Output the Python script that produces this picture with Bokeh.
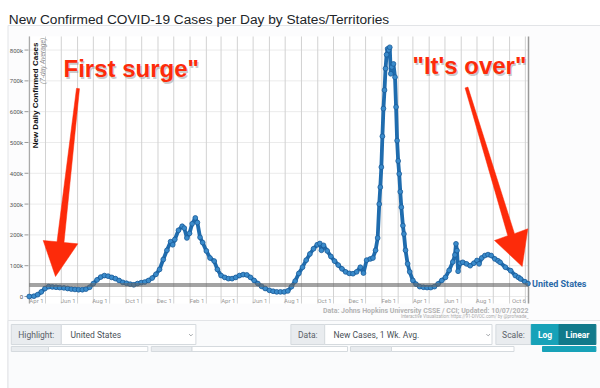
import pandas as pd
from bokeh.plotting import figure
from bokeh.models import Range1d
from bokeh.core.properties import value
from bokeh.embed import file_html
from bokeh.resources import INLINE

# ---------------- data (US new cases, 7-day average, thousands) ----------------
dates = [
    "2020-03-01", "2020-03-10", "2020-03-17", "2020-03-24", "2020-03-31", "2020-04-07", "2020-04-14",
    "2020-04-21", "2020-04-28", "2020-05-06", "2020-05-13", "2020-05-20", "2020-05-27", "2020-06-03",
    "2020-06-10", "2020-06-17", "2020-06-24", "2020-07-01", "2020-07-08", "2020-07-15", "2020-07-22",
    "2020-07-29", "2020-08-05", "2020-08-12", "2020-08-19", "2020-08-26", "2020-09-02", "2020-09-09",
    "2020-09-16", "2020-09-23", "2020-09-30", "2020-10-07", "2020-10-14", "2020-10-21", "2020-10-28",
    "2020-11-04", "2020-11-11", "2020-11-18", "2020-11-25", "2020-11-29", "2020-12-03", "2020-12-10",
    "2020-12-17", "2020-12-21", "2020-12-26", "2020-12-31",
    "2021-01-05", "2021-01-11", "2021-01-15", "2021-01-20", "2021-01-25", "2021-02-01", "2021-02-08",
    "2021-02-16", "2021-02-22", "2021-03-01", "2021-03-08", "2021-03-15", "2021-03-22", "2021-03-29",
    "2021-04-05", "2021-04-12", "2021-04-19", "2021-04-26", "2021-05-03", "2021-05-10", "2021-05-17",
    "2021-05-24", "2021-06-01", "2021-06-08", "2021-06-15", "2021-06-22", "2021-06-29", "2021-07-06",
    "2021-07-13", "2021-07-20", "2021-07-27", "2021-08-03", "2021-08-10", "2021-08-17", "2021-08-24",
    "2021-08-31", "2021-09-05", "2021-09-08", "2021-09-12", "2021-09-19", "2021-09-26", "2021-10-03",
    "2021-10-10", "2021-10-17", "2021-10-24", "2021-10-31", "2021-11-07", "2021-11-14", "2021-11-21",
    "2021-11-27", "2021-12-03", "2021-12-10", "2021-12-15", "2021-12-20", "2021-12-24", "2021-12-27",
    "2021-12-29", "2021-12-31",
    "2022-01-02", "2022-01-04", "2022-01-06", "2022-01-08", "2022-01-10", "2022-01-12", "2022-01-14",
    "2022-01-16", "2022-01-18", "2022-01-20", "2022-01-23", "2022-01-26", "2022-01-28", "2022-01-30",
    "2022-02-01", "2022-02-03", "2022-02-05", "2022-02-07", "2022-02-10", "2022-02-12", "2022-02-15",
    "2022-02-19", "2022-02-23", "2022-03-01", "2022-03-07", "2022-03-14", "2022-03-21", "2022-03-28",
    "2022-04-04", "2022-04-11", "2022-04-18", "2022-04-25", "2022-05-02", "2022-05-09", "2022-05-16",
    "2022-05-20", "2022-05-22", "2022-05-24", "2022-05-26", "2022-05-30", "2022-06-04", "2022-06-11",
    "2022-06-18", "2022-06-25", "2022-07-01", "2022-07-05", "2022-07-10", "2022-07-16", "2022-07-22",
    "2022-07-28", "2022-08-04", "2022-08-10", "2022-08-14", "2022-08-24", "2022-09-03", "2022-09-12",
    "2022-09-18", "2022-09-22", "2022-09-30", "2022-10-06",
]
cases_k = [
    0, 1, 6, 15, 26, 32, 31,
    30, 29, 28, 26, 24, 23, 22,
    22, 24, 30, 42, 54, 63, 68,
    66, 62, 58, 52, 46, 43, 40,
    38, 42, 45, 47, 52, 60, 72,
    88, 120, 150, 178, 168, 185, 215,
    228, 222, 190, 205,
    236, 255, 240, 192, 175, 148, 125,
    115, 88, 68, 62, 58, 58, 62,
    68, 71, 70, 62, 52, 42, 33,
    26, 20, 17, 15, 15, 15, 18,
    32, 50, 75, 95, 118, 138, 155,
    168, 172, 150, 166, 148, 130, 115,
    102, 90, 80, 75, 74, 80, 95,
    76, 118, 122, 125, 150, 190, 300,
    355, 420,
    520, 610, 670, 740, 785, 804, 800,
    809, 723, 745, 755, 712, 615, 506,
    440, 398, 340, 290, 230, 203, 150,
    106, 80, 52, 40, 32, 30, 29,
    29, 32, 41, 52, 62, 85, 112,
    135, 171, 149, 82, 108, 111, 106,
    100, 108, 117, 106, 125, 133, 136,
    133, 122, 116, 111, 95, 84, 68,
    62, 57, 48, 42,
]
current_level_k = 37

y_ticks = [0, 100000, 200000, 300000, 400000, 500000, 600000, 700000, 800000]
y_tick_labels = ["0", "100k", "200k", "300k", "400k", "500k", "600k", "700k", "800k"]
x_tick_dates = ["2020-04-01", "2020-06-01", "2020-08-01", "2020-10-01", "2020-12-01",
                "2021-02-01", "2021-04-01", "2021-06-01", "2021-08-01", "2021-10-01",
                "2021-12-01", "2022-02-01", "2022-04-01", "2022-06-01", "2022-08-01", "2022-10-06"]
x_tick_labels = ["Apr 1", "Jun 1", "Aug 1", "Oct 1", "Dec 1", "Feb 1", "Apr 1", "Jun 1",
                 "Aug 1", "Oct 1", "Dec 1", "Feb 1", "Apr 1", "Jun 1", "Aug 1", "Oct 6"]
series_name = "United States"


def ms(s):
    return pd.Timestamp(s).value / 1e6


xs = [ms(d) for d in dates]
ys = [v * 1000 for v in cases_k]
month_ticks = [ms(d) for d in pd.date_range("2020-03-01", "2022-10-01", freq="MS")]

# chart value ranges and where the chart frame sits on the page (pixels)
x0, x1 = ms("2020-03-01 12:00"), ms("2022-10-07")
y0, y1 = -22700, 844000
W, H = 600, 388
FL, FR, FT, FB = 29, 528, 36, 303
px_ms = (x1 - x0) / (FR - FL)
px_val = (y1 - y0) / (FB - FT)

FONT = "Roboto"
RED = "#fd2b0a"

# one canvas in page pixels; chart drawn on extra ranges through its own scales
p = figure(width=W, height=H, x_range=Range1d(0, W), y_range=Range1d(H, 0),
           x_axis_location=None, y_axis_location=None, output_backend="svg",
           toolbar_location=None, min_border=0, outline_line_color=None,
           background_fill_color="#ffffff", border_fill_color="#ffffff")
p.grid.visible = False
p.extra_x_ranges = {"date": Range1d(x0 - FL * px_ms, x1 + (W - FR) * px_ms)}
p.extra_y_ranges = {"cases": Range1d(y0 - (H - FB) * px_val, y1 + FT * px_val)}
D = dict(x_range_name="date", y_range_name="cases")

# card / panel backgrounds
p.quad(left=[7.5], right=[W + 2], top=[25], bottom=[H + 2], fill_color="#fcfcfd",
       line_color="#e2e4e7", line_width=1)
p.quad(left=[7.5], right=[W + 2], top=[320], bottom=[H + 2], fill_color="#fafbfc",
       line_color="#e2e4e7", line_width=1)
p.quad(left=[x0], right=[x1], top=[y1], bottom=[y0], fill_color="#ffffff", line_color=None, **D)

# grid
p.segment(x0=[x0] * len(y_ticks), x1=[x1] * len(y_ticks), y0=y_ticks, y1=y_ticks,
          line_color="#ebebeb", line_width=1, **D)
p.segment(x0=month_ticks, x1=month_ticks, y0=[y0] * len(month_ticks), y1=[y1] * len(month_ticks),
          line_color="#d2d2d2", line_width=1, **D)
# y axis
p.segment(x0=[x0], x1=[x0], y0=[y0], y1=[y1], line_color="#aaaaaa", line_width=1.2, **D)
p.segment(x0=[x0 - 5 * px_ms] * len(y_ticks), x1=[x0 - 1 * px_ms] * len(y_ticks),
          y0=y_ticks, y1=y_ticks, line_color="#999999", line_width=1, **D)
p.text(x=[x0 - 6.5 * px_ms] * len(y_ticks), y=y_ticks, text=y_tick_labels, text_align="right",
       text_baseline="middle", text_font=value(FONT), text_font_size="6px",
       text_color="#555555", **D)
# right border
p.segment(x0=[x1], x1=[x1], y0=[y0], y1=[y1], line_color="#999999", line_width=1.5, **D)

# x tick labels (right-aligned to their gridline)
p.text(x=[ms(d) - 2 * px_ms for d in x_tick_dates], y=[-4 * px_val] * len(x_tick_dates),
       text=x_tick_labels, text_align="right", text_baseline="middle",
       text_font=value(FONT), text_font_size="6px", text_color="#999999", **D)

# series
p.line(xs, ys, line_color="#1f6cae", line_width=3.8, **D)
p.scatter(xs, ys, marker="circle", size=4.8, fill_color="#3a8bcb", line_color="#1a5c99",
          line_width=0.8, **D)
p.line([xs[0], xs[-1]], [current_level_k * 1000] * 2, line_color="#666666",
       line_alpha=0.6, line_width=4, **D)
p.text(x=[xs[-1]], y=[ys[-1]], text=[series_name], x_offset=4, text_font=value(FONT),
       text_font_style="bold", text_font_size="9px", text_color="#2a6aa8",
       text_baseline="middle", text_align="left", **D)

# axis titles inside frame
p.text(x=[34.5], y=[42], text=["New Daily Confirmed Cases"], angle=90, angle_units="deg",
       text_align="right", text_baseline="middle", text_font=value("Liberation Sans"),
       text_font_style="bold", text_font_size="8px", text_color="#111111")
p.text(x=[41.8], y=[37], text=["(7-day Average)"], angle=90, angle_units="deg",
       text_align="right", text_baseline="middle", text_font=value("Liberation Sans"),
       text_font_style="italic", text_font_size="6.5px", text_color="#888888")

# title
p.text(x=[8.3], y=[19], text=["New Confirmed COVID-19 Cases per Day by States/Territories"],
       text_font=value("Liberation Sans"), text_font_size="13.7px", text_color="#212529",
       text_baseline="alphabetic", text_align="left")

# source text
p.text(x=[528], y=[310.5], text=["Data: Johns Hopkins University CSSE / CCI; Updated: 10/07/2022"],
       text_font=value(FONT), text_font_style="bold", text_font_size="7px",
       text_color="#b3b3b3", text_align="right", text_baseline="middle")
p.text(x=[528], y=[315.7], text=["Interactive Visualization: https://91-DIVOC.com/ by @profwade_"],
       text_font=value(FONT), text_font_size="4.5px", text_color="#aaaaaa",
       text_align="right", text_baseline="middle")


# annotation arrows (page pixels)
def arrow(tail, tip, head_a, head_b, w_tail, w_base):
    bx, by = (head_a[0] + head_b[0]) / 2, (head_a[1] + head_b[1]) / 2
    dx, dy = bx - tail[0], by - tail[1]
    L = (dx * dx + dy * dy) ** 0.5
    nx, ny = dy / L, -dx / L
    if (head_a[0] - bx) * nx + (head_a[1] - by) * ny < 0:
        head_a, head_b = head_b, head_a
    pts = [(tail[0] + nx * w_tail, tail[1] + ny * w_tail),
           (bx + nx * w_base, by + ny * w_base), head_a, tip, head_b,
           (bx - nx * w_base, by - ny * w_base),
           (tail[0] - nx * w_tail, tail[1] - ny * w_tail)]
    return [a for a, b in pts], [b for a, b in pts]


for spec in [((77.5, 88), (55, 276), (42.7, 240), (77.3, 243.3)),
             ((466, 87), (521.7, 266), (494, 240), (527.3, 228.3))]:
    ax_, ay_ = arrow(*spec, 1.5, 3.5)
    p.patch(ax_, ay_, fill_color=RED, line_color=RED, line_width=0.5)

ann_text = ["First surge\"", "\"It's over\""]
ann_x = [63, 412]
ann_y = [68, 65]
p.text(x=[a + 1.2 for a in ann_x], y=[b + 1.5 for b in ann_y], text=ann_text,
       text_font=value("Liberation Sans"), text_font_style="bold", text_font_size="24px",
       text_color="#8a8a8a", text_alpha=0.45, text_baseline="alphabetic")
p.text(x=ann_x, y=ann_y, text=ann_text, text_font=value("Liberation Sans"),
       text_font_style="bold", text_font_size="24px", text_color=RED, text_baseline="alphabetic")

# ---------------- controls strip (page pixels) ----------------
boxes = [
    (10.8, 60.8, 324, 344, "#e9ecef"), (60.8, 195.4, 324, 344, "#ffffff"),
    (290.4, 324.2, 324, 344, "#e9ecef"), (324.2, 491.5, 324, 344, "#ffffff"),
    (495.4, 530.8, 324, 344, "#e9ecef"),
    (10.8, 48, 346, 351, "#e9ecef"), (48, 147.3, 346, 351, "#ffffff"),
    (150.8, 191.5, 346, 351, "#e9ecef"), (191.5, 347, 346, 351, "#ffffff"),
    (350, 391, 346, 351, "#e9ecef"), (391, 513.5, 346, 351, "#ffffff"),
]
p.quad(left=[b[0] for b in boxes], right=[b[1] for b in boxes], top=[b[2] for b in boxes],
       bottom=[b[3] for b in boxes], fill_color=[b[4] for b in boxes], line_color="#d5dade",
       line_width=1)
btns = [(530.8, 558.5, 324, 344, "#17a2b8"), (558.5, 595.4, 324, 344, "#117a8b"),
        (542, 595.4, 346, 351, "#17a2b8")]
p.quad(left=[b[0] for b in btns], right=[b[1] for b in btns], top=[b[2] for b in btns],
       bottom=[b[3] for b in btns], fill_color=[b[4] for b in btns],
       line_color=[b[4] for b in btns])

p.text(x=[35.8, 307.3, 513], y=[334.5] * 3, text=["Highlight:", "Data:", "Scale:"],
       text_align="center", text_baseline="middle", text_font=value(FONT),
       text_font_size="8.5px", text_color="#5a6168")
p.text(x=[70, 333], y=[334.5] * 2, text=["United States", "New Cases, 1 Wk. Avg."],
       text_align="left", text_baseline="middle", text_font=value(FONT),
       text_font_size="8.5px", text_color="#495057")
p.text(x=[544.6, 577], y=[334.5] * 2, text=["Log", "Linear"], text_align="center",
       text_baseline="middle", text_font=value(FONT), text_font_style="bold",
       text_font_size="8.5px", text_color="#ffffff")
p.multi_line(xs=[[188.6, 190.4, 192.2], [485.9, 487.7, 489.5]],
             ys=[[333.6, 335.4, 333.6], [333.6, 335.4, 333.6]], line_color="#8a8f94",
             line_width=0.8)

open("out.html", "w").write(file_html(p, INLINE))
